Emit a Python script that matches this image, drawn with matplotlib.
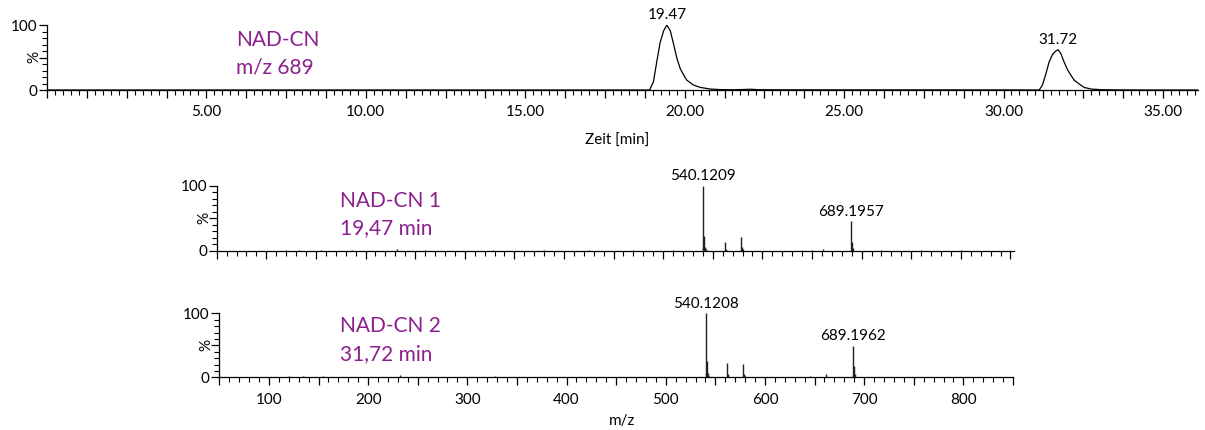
import matplotlib
matplotlib.use("Agg")
import matplotlib.pyplot as plt
from matplotlib.ticker import MultipleLocator, FixedLocator, FuncFormatter

# ---------------- data ----------------
# chromatogram (extracted ion, m/z 689): time [min], relative intensity [%]
chrom_time = [0.0, 5.0, 10.0, 15.0, 18.7, 18.90, 19.02, 19.13, 19.23, 19.34, 19.44, 19.55,
              19.65, 19.76, 19.86, 19.97, 20.07, 20.28, 20.49, 20.80, 21.12, 21.5,
              21.9, 22.05, 22.3, 23.0, 25.0, 28.0, 30.5, 31.12, 31.22, 31.33, 31.43,
              31.54, 31.64, 31.71, 31.80, 31.90, 32.01, 32.11, 32.22, 32.38, 32.53,
              32.74, 33.05, 33.5, 34.5, 36.1]
chrom_int = [0.0, 0.0, 0.0, 0.0, 0.0, 0.0, 12.6, 45.0, 73.0, 91.0, 100.0, 91.0,
             71.0, 48.0, 33.0, 23.0, 15.0, 7.5, 4.0, 1.5, 0.6, 0.4,
             0.8, 1.2, 0.5, 0.3, 0.2, 0.2, 0.1, 0.0, 7.5, 25.0, 43.0,
             55.0, 60.0, 62.0, 56.0, 43.0, 31.0, 23.0, 15.0, 9.0, 4.0,
             1.5, 0.5, 0.2, 0.0, 0.0]
chrom_labels = ["19.47", "31.72"]
chrom_label_t = [19.47, 31.72]
chrom_label_i = [100.0, 62.0]

# mass spectrum 1 (19.47 min)
ms1_mz = [120, 133, 155, 186, 232, 260, 328, 380, 425, 470, 510,
          540.12, 540.6, 541.12, 542.12, 543.1,
          562.10, 563.10, 578.08, 579.08, 580.1,
          640, 650, 661.0, 689.20, 690.20, 691.20, 720, 760, 800]
ms1_int = [1.0, 1.5, 1.5, 1.0, 2.5, 1.0, 1.5, 1.0, 1.2, 1.0, 1.0,
           100.0, 6.0, 22.0, 6.0, 2.0,
           13.0, 3.0, 21.0, 5.0, 2.0,
           1.5, 1.5, 3.0, 45.0, 14.0, 4.0, 1.0, 1.0, 0.8]
ms1_labels = ["540.1209", "689.1957"]
ms1_label_mz = [540.12, 689.20]
ms1_label_int = [100.0, 45.0]

# mass spectrum 2 (31.72 min)
ms2_mz = [120, 134, 155, 186, 232, 260, 328, 380, 425, 470, 510,
          540.12, 540.6, 541.12, 542.12, 543.1,
          562.10, 563.10, 578.08, 579.08, 580.1,
          645, 662.0, 689.20, 690.20, 691.20, 720, 760, 800]
ms2_int = [1.5, 2.0, 2.5, 1.0, 3.0, 1.0, 2.5, 1.0, 1.2, 1.0, 1.0,
           100.0, 7.0, 25.0, 7.0, 2.0,
           22.0, 5.0, 21.0, 5.0, 2.0,
           2.0, 5.0, 49.0, 17.0, 5.0, 1.2, 1.0, 0.8]
ms2_labels = ["540.1208", "689.1962"]
ms2_label_mz = [540.12, 689.20]
ms2_label_int = [100.0, 49.0]

title_top = ["NAD-CN", "m/z 689"]
title_ms1 = ["NAD-CN 1", "19,47 min"]
title_ms2 = ["NAD-CN 2", "31,72 min"]

# ---------------- style ----------------
FONT = "Lato"
plt.rcParams["font.family"] = [FONT, "DejaVu Sans"]
PURPLE = "#8B1F8E"
TS = 11     # tick / label font size
PS = 15     # purple title size
W, H = 1205, 430

fig = plt.figure(figsize=(W / 100, H / 100), dpi=100)


def rect(x0, y_top, x1, y_bot):
    return [x0 / W, 1 - y_bot / H, (x1 - x0) / W, (y_bot - y_top) / H]


def fpos(x, y):
    return x / W, 1 - y / H


def style_axes(ax, xmaj, xmin, fmt):
    for s in ["top", "right"]:
        ax.spines[s].set_visible(False)
    for s in ["left", "bottom"]:
        ax.spines[s].set_linewidth(0.9)
    ax.set_ylim(0, 100)
    ax.yaxis.set_major_locator(FixedLocator([0, 50, 100]))
    ax.yaxis.set_major_formatter(FuncFormatter(lambda v, p: {0: "0", 100: "100"}.get(int(round(v)), "")))
    ax.yaxis.set_minor_locator(MultipleLocator(10))
    ax.xaxis.set_major_locator(MultipleLocator(xmaj))
    ax.xaxis.set_minor_locator(MultipleLocator(xmin))
    ax.xaxis.set_major_formatter(FuncFormatter(fmt))
    ax.tick_params(axis="both", which="major", direction="out", length=6, width=0.9,
                   labelsize=TS, pad=1.0)
    ax.tick_params(axis="both", which="minor", direction="out", length=3.5, width=0.8)
    ax.tick_params(axis="x", which="major", pad=5)
    ax.patch.set_alpha(0)


# ---------------- top: chromatogram ----------------
ax0 = fig.add_axes(rect(47, 25, 1198, 90))
ax0.plot(chrom_time, chrom_int, color="black", lw=0.9)
ax0.set_xlim(0, 36.1)
style_axes(ax0, 1.25, 0.25,
           lambda v, p: (f"{v:.2f}" if (abs(v / 5 - round(v / 5)) < 1e-6 and v > 0.1) else ""))
for lab, t, i in zip(chrom_labels, chrom_label_t, chrom_label_i):
    ax0.annotate(lab, xy=(t, i), xytext=(0, 2), textcoords="offset points",
                 ha="center", va="bottom", fontsize=TS, annotation_clip=False)
fig.text(*fpos(617, 141), "Zeit [min]", ha="center", va="center", fontsize=TS)
fig.text(*fpos(34, 57), "%", ha="center", va="center", rotation=90, fontsize=TS)
fig.text(*fpos(236, 46.5), title_top[0], color=PURPLE, fontsize=PS, va="baseline", ha="left")
fig.text(*fpos(236, 73.5), title_top[1], color=PURPLE, fontsize=PS, va="baseline", ha="left")

# ---------------- middle: spectrum 1 ----------------
ax1 = fig.add_axes(rect(216.7, 185.7, 1014, 250.7))
ax1.vlines(ms1_mz, 0, ms1_int, color="#222222", lw=1.0)
ax1.set_xlim(50, 853.6)
style_axes(ax1, 50, 10, lambda v, p: "")
for lab, m, i in zip(ms1_labels, ms1_label_mz, ms1_label_int):
    ax1.annotate(lab, xy=(m, i), xytext=(0, 2), textcoords="offset points",
                 ha="center", va="bottom", fontsize=TS, annotation_clip=False)
fig.text(*fpos(204, 218), "%", ha="center", va="center", rotation=90, fontsize=TS)
fig.text(*fpos(340, 206.7), title_ms1[0], color=PURPLE, fontsize=PS, va="baseline", ha="left")
fig.text(*fpos(340, 234), title_ms1[1], color=PURPLE, fontsize=PS, va="baseline", ha="left")

# ---------------- bottom: spectrum 2 ----------------
ax2 = fig.add_axes(rect(219.3, 313.3, 1013, 377.3))
ax2.vlines(ms2_mz, 0, ms2_int, color="#222222", lw=1.0)
ax2.set_xlim(50, 850)
style_axes(ax2, 50, 10,
           lambda v, p: (f"{int(round(v))}" if (int(round(v)) % 100 == 0) else ""))
for lab, m, i in zip(ms2_labels, ms2_label_mz, ms2_label_int):
    ax2.annotate(lab, xy=(m, i), xytext=(0, 2), textcoords="offset points",
                 ha="center", va="bottom", fontsize=TS, annotation_clip=False)
fig.text(*fpos(622, 421), "m/z", ha="center", va="center", fontsize=TS)
fig.text(*fpos(206, 345), "%", ha="center", va="center", rotation=90, fontsize=TS)
fig.text(*fpos(340, 331.7), title_ms2[0], color=PURPLE, fontsize=PS, va="baseline", ha="left")
fig.text(*fpos(340, 360), title_ms2[1], color=PURPLE, fontsize=PS, va="baseline", ha="left")

fig.savefig("out.png", dpi=100)
